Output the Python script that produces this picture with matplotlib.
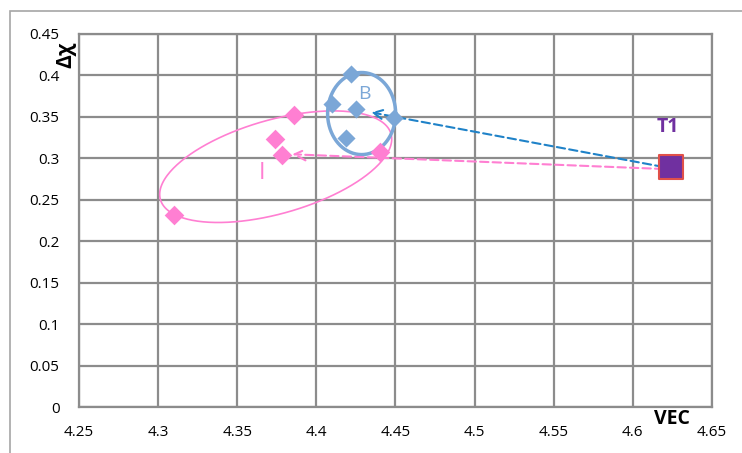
import numpy as np
import matplotlib
matplotlib.use("Agg")
import matplotlib.pyplot as plt
from matplotlib.patches import Rectangle

plt.rcParams['font.family'] = ['Open Sans', 'DejaVu Sans']

# group I (pink) and group B (blue) alloys, plus the target T1
i_vec = [4.310, 4.386, 4.374, 4.378, 4.440]
i_dchi = [0.232, 0.352, 0.323, 0.304, 0.308]
b_vec = [4.422, 4.410, 4.425, 4.419, 4.449]
b_dchi = [0.402, 0.365, 0.360, 0.324, 0.349]
t1_vec = 4.624
t1_dchi = 0.290

x_ticks = [4.25, 4.3, 4.35, 4.4, 4.45, 4.5, 4.55, 4.6, 4.65]
y_ticks = [0, 0.05, 0.1, 0.15, 0.2, 0.25, 0.3, 0.35, 0.4, 0.45]
x_labels = ['4.25', '4.3', '4.35', '4.4', '4.45', '4.5', '4.55', '4.6', '4.65']
y_labels = ['0', '0.05', '0.1', '0.15', '0.2', '0.25', '0.3', '0.35', '0.4', '0.45']

PINK = '#FF7FD2'
BLUE = '#7BA7D7'
DBLUE = '#1F82C8'
PURPLE = '#7030A0'

fig = plt.figure(figsize=(7.42, 4.53), dpi=100)
ax = fig.add_axes([0.1065, 0.1015, 0.853, 0.8235])

# outer chart frame
fig.patches.append(Rectangle((10 / 742, -0.1), 2, 1.1 - 11 / 453, transform=fig.transFigure,
                             fill=False, edgecolor='#A6A6A6', linewidth=1.2))

ax.set_xlim(4.25, 4.65)
ax.set_ylim(0, 0.45)
ax.set_xticks(x_ticks)
ax.set_xticklabels(x_labels)
ax.set_yticks(y_ticks)
ax.set_yticklabels(y_labels)
ax.tick_params(length=0, labelsize=11)
ax.tick_params(axis='y', pad=14)
ax.tick_params(axis='x', pad=13)
ax.grid(True, color='#8C8C8C', linewidth=1.6)
ax.set_axisbelow(True)
for s in ax.spines.values():
    s.set_color('#8C8C8C')
    s.set_linewidth(1.6)

# dashed arrows from T1 back to each group
ax.annotate('', xy=(4.433, 0.356), xytext=(t1_vec - 0.003, t1_dchi - 0.001),
            arrowprops=dict(arrowstyle='->', color=DBLUE, lw=1.5, linestyle=(0, (4, 2)),
                            mutation_scale=16))
ax.annotate('', xy=(4.383, 0.305), xytext=(t1_vec - 0.003, t1_dchi - 0.003),
            arrowprops=dict(arrowstyle='->', color=PINK, lw=1.5, linestyle=(0, (4, 2)),
                            mutation_scale=20))

# ellipse around group I (tilted)
t = np.linspace(0, 2 * np.pi, 300)
cx, cy = 4.3743, 0.2899
ex = cx + 0.0729 * np.cos(t) + 0.0079 * np.sin(t)
ey = cy + 0.0395 * np.cos(t) - 0.0545 * np.sin(t)
ax.plot(ex, ey, color=PINK, lw=1.2)

# ellipse around group B
bx = 4.4286 + 0.0215 * np.cos(t)
by = 0.354 + 0.0495 * np.sin(t)
ax.plot(bx, by, color=BLUE, lw=2.5)

ax.scatter(i_vec, i_dchi, marker='D', s=100, color=PINK, zorder=3, linewidths=0)
ax.scatter(b_vec, b_dchi, marker='D', s=85, color=BLUE, zorder=3, linewidths=0)
ax.scatter([t1_vec], [t1_dchi], marker='s', s=300, color=PURPLE, edgecolors='#E0504A',
           linewidths=1.5, zorder=4)

ax.text(4.4305, 0.378, 'B', color=BLUE, fontsize=14, ha='center', va='center')
ax.text(4.3655, 0.282, 'I', color=PINK, fontsize=17, ha='center', va='center')
ax.text(4.6218, 0.338, 'T1', color=PURPLE, fontsize=14, fontweight='bold',
        ha='center', va='center')

fig.text(66 / 742, 1 - 55 / 453, 'Δχ', rotation=90, fontsize=15, fontweight='bold',
         ha='center', va='center')
fig.text(672 / 742, 1 - 419 / 453, 'VEC', fontsize=14, fontweight='bold',
         ha='center', va='center')

fig.savefig('out.png', dpi=100)
